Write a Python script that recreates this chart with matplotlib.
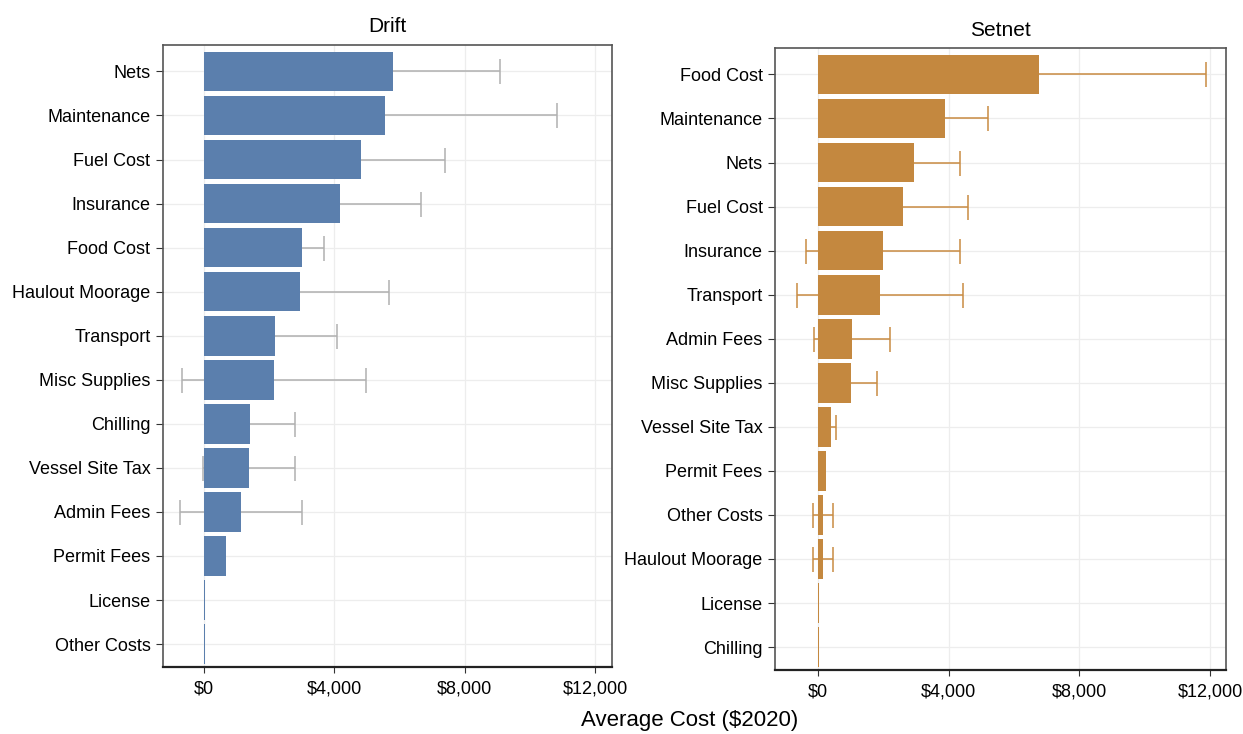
import numpy as np
import matplotlib
matplotlib.use("Agg")
import matplotlib.pyplot as plt
from matplotlib.ticker import FuncFormatter

plt.rcParams['font.family'] = ['Liberation Sans Narrow', 'Liberation Sans', 'DejaVu Sans']

# Drift fleet (ordered top to bottom)
drift_cats = ['Nets', 'Maintenance', 'Fuel Cost', 'Insurance', 'Food Cost', 'Haulout Moorage',
              'Transport', 'Misc Supplies', 'Chilling', 'Vessel Site Tax', 'Admin Fees',
              'Permit Fees', 'License', 'Other Costs']
drift_mean = [5800, 5560, 4820, 4170, 3010, 2950, 2180, 2150, 1410, 1380, 1140, 680, 40, 15]
drift_err = [3290, 5280, 2580, 2490, 680, 2730, 1900, 2820, 1380, 1410, 1870, 0, 0, 0]

# Setnet fleet (ordered top to bottom)
setnet_cats = ['Food Cost', 'Maintenance', 'Nets', 'Fuel Cost', 'Insurance', 'Transport',
               'Admin Fees', 'Misc Supplies', 'Vessel Site Tax', 'Permit Fees', 'Other Costs',
               'Haulout Moorage', 'License', 'Chilling']
setnet_mean = [6770, 3890, 2940, 2600, 1990, 1900, 1040, 1010, 400, 245, 150, 150, 30, 15]
setnet_err = [5110, 1320, 1410, 1990, 2360, 2540, 1160, 800, 150, 0, 310, 310, 0, 0]

fig = plt.figure(figsize=(12.43, 7.34), dpi=100)
ax1 = fig.add_axes([0.1311, 0.0913, 0.3613, 0.8474])
ax2 = fig.add_axes([0.6235, 0.0872, 0.3628, 0.8474])

panels = [
    (ax1, 'Drift', drift_cats, drift_mean, drift_err, '#5b7fad', '#b0b0b0', (-1260, 12520)),
    (ax2, 'Setnet', setnet_cats, setnet_mean, setnet_err, '#c4883f', '#c98b42', (-1320, 12490)),
]

money = FuncFormatter(lambda v, p: '${:,.0f}'.format(v))

for ax, title, cats, mean, err, col, ecol, xl in panels:
    y = np.arange(len(cats))
    ax.set_axisbelow(True)
    ax.grid(True, color='#ededed', linewidth=0.9)
    m = np.array(mean)
    e = np.array(err)
    has = e > 0
    # error bars sit behind the bars, only the part outside the bar shows
    ax.errorbar(m[has], y[has], xerr=e[has], fmt='none', ecolor=ecol,
                elinewidth=1.1, capsize=9, capthick=1.1, zorder=1.5)
    ax.barh(y, mean, height=0.9, color=col, zorder=2)
    ax.set_yticks(y)
    ax.set_yticklabels(cats, fontsize=13)
    ax.set_ylim(len(cats) - 0.48, -0.6)
    ax.set_xlim(*xl)
    ax.set_xticks([0, 4000, 8000, 12000])
    ax.xaxis.set_major_formatter(money)
    ax.tick_params(axis='x', labelsize=13, length=4, pad=6, color='#333333')
    ax.tick_params(axis='y', length=5, pad=4, color='#333333')
    for s in ax.spines.values():
        s.set_color('#555555')
        s.set_linewidth(1.2)
    ax.spines['bottom'].set_color('#222222')
    ax.spines['bottom'].set_linewidth(1.6)
    ax.set_title(title, fontsize=15, pad=9)

fig.text(0.555, 0.019, 'Average Cost ($2020)', ha='center', va='center', fontsize=16)

fig.savefig('out.png', dpi=100, facecolor='white')
